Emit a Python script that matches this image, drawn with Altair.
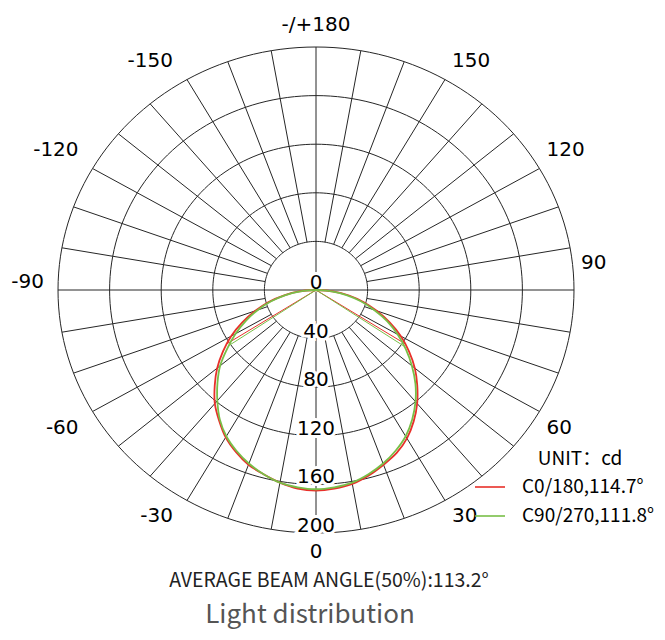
import math
import altair as alt
import pandas as pd

# ---------------- data ----------------
GAMMA = [0, 5, 10, 15, 20, 25, 30, 35, 40, 45, 50, 55, 60, 65, 70, 75, 80, 85, 90]
C0_VALS = [165, 164, 162, 158, 153, 148, 141, 132, 122, 111, 100, 88, 76, 63, 50, 38, 26, 13, 0]
C180_VALS = [165, 164, 161, 157, 153, 147, 140, 131, 122, 111, 100, 88, 76, 63, 50, 38, 25, 13, 0]
C90_VALS = [164, 163, 161, 157, 152, 146, 139, 130, 120, 109, 97, 85, 73, 61, 48, 36, 24, 12, 0]
C270_VALS = [164, 163, 161, 157, 152, 146, 139, 130, 119, 108, 97, 84, 72, 60, 48, 36, 24, 12, 0]

SERIES = ["C0/180,114.7°", "C90/270,111.8°"]
BEAM = [114.7, 111.8]
COLORS = ["#e8302a", "#78bf48"]

RINGS = [40, 80, 120, 160, 200]
RING_LABEL_VALUES = [0, 40, 80, 120, 160, 200]
ANGLE_TICKS = [-150, -120, -90, -60, -30, 0, 30, 60, 90, 120, 150, 180]
ANGLE_TEXT = ["-150", "-120", "-90", "-60", "-30", "0", "30", "60", "90", "120", "150", "-/+180"]

FOOTNOTE = "AVERAGE BEAM ANGLE(50%):113.2°"
TITLE = "Light distribution"
UNIT = "UNIT：cd"

# ---------------- layout ----------------
W, H = 649, 624
CX, CY = 308, 282          # pole position inside plot area (px)
KX, KY = 1.29, 1.215       # px per cd horizontally / vertically
XS = alt.Scale(domain=[-CX / KX, (W - CX) / KX], nice=False, zero=False)
YS = alt.Scale(domain=[-(H - CY) / KY, CY / KY], nice=False, zero=False)
GRID = "#262626"
FONT_NUM = "DejaVu Sans"
FONT_TXT = "Noto Sans CJK SC"

XPOL = "datum.r * sin(datum.a * PI / 180)"
YPOL = "-datum.r * cos(datum.a * PI / 180)"


def X(f="x"):
    return alt.X(f + ":Q", scale=XS, axis=None)


def Y(f="y"):
    return alt.Y(f + ":Q", scale=YS, axis=None)


# curves
curve_rows = []
halves = [(C180_VALS, C0_VALS), (C270_VALS, C90_VALS)]
for name, (left, right) in zip(SERIES, halves):
    for g, v in reversed(list(zip(GAMMA, left))):
        curve_rows.append({"series": name, "a": -g, "r": v})
    for g, v in list(zip(GAMMA, right))[1:]:
        curve_rows.append({"series": name, "a": g, "r": v})
curve_df = pd.DataFrame(curve_rows)

# half-intensity chords (beam angle)
chord_rows = []
for name, beam, vals in zip(SERIES, BEAM, [C0_VALS, C90_VALS]):
    half = max(vals) / 2
    for side in (-1, 1):
        seg = f"{name}{side}"
        chord_rows.append({"series": name, "seg": seg, "k": 0, "a": 0, "r": 0})
        chord_rows.append({"series": name, "seg": seg, "k": 1, "a": side * beam / 2, "r": half})
chord_df = pd.DataFrame(chord_rows)

# grid rings
ring_df = pd.DataFrame([{"ring": r, "a": a, "r": r} for r in RINGS for a in range(0, 361, 2)])

# spokes every 10 degrees
spoke_df = pd.DataFrame(
    [{"a": a, "r0": 0 if a % 90 == 0 else RINGS[0], "r1": RINGS[-1]} for a in range(-170, 181, 10)]
)

# ring labels along the downward axis
ring_lab_df = pd.DataFrame({"a": [0] * len(RING_LABEL_VALUES), "r": RING_LABEL_VALUES,
                            "t": [str(v) for v in RING_LABEL_VALUES]})

# angle labels: anchored just outside the outer ring
RXP, RYP = RINGS[-1] * KX, RINGS[-1] * KY
lab_rows = []
for a, t in zip(ANGLE_TICKS, ANGLE_TEXT):
    s, c = math.sin(math.radians(a)), math.cos(math.radians(a))
    xpx, ydown = RXP * s, RYP * c
    if abs(s) < 1e-6:
        align = "center"
        ydown += 19 if c > 0 else -22
    elif s > 0:
        align = "left"
        xpx += 7
        ydown += 16 if c > 0.01 else (-19 if c < -0.01 else -27)
    else:
        align = "right"
        xpx -= 14
        ydown += 16 if c > 0.01 else (-19 if c < -0.01 else -8)
    lab_rows.append({"t": t, "align": align, "x": xpx / KX, "y": -ydown / KY})
ang_df = pd.DataFrame(lab_rows)

base_calc = dict(x=XPOL, y=YPOL)

rings = alt.Chart(ring_df).transform_calculate(**base_calc).mark_line(
    color=GRID, strokeWidth=1).encode(x=X(), y=Y(), detail="ring:N", order="a:Q")

spokes = alt.Chart(spoke_df).transform_calculate(
    x0="datum.r0 * sin(datum.a * PI / 180)", y0="-datum.r0 * cos(datum.a * PI / 180)",
    x1="datum.r1 * sin(datum.a * PI / 180)", y1="-datum.r1 * cos(datum.a * PI / 180)",
).mark_rule(color=GRID, strokeWidth=1).encode(x=X("x0"), y=Y("y0"), x2="x1:Q", y2="y1:Q")

ring_halo = alt.Chart(ring_lab_df).transform_calculate(**base_calc).mark_text(
    font=FONT_NUM, fontSize=20, baseline="alphabetic", align="center", dy=-1,
    stroke="white", strokeWidth=6, color="white").encode(x=X(), y=Y(), text="t:N")
ring_text = alt.Chart(ring_lab_df).transform_calculate(**base_calc).mark_text(
    font=FONT_NUM, fontSize=20, baseline="alphabetic", align="center", dy=-1,
    color="black").encode(x=X(), y=Y(), text="t:N")


def ang_layer(al):
    return alt.Chart(ang_df).transform_filter(f"datum.align == '{al}'").mark_text(
        font=FONT_NUM, fontSize=20, baseline="middle", align=al, color="black"
    ).encode(x=X(), y=Y(), text="t:N")


color_enc = alt.Color(
    "series:N",
    scale=alt.Scale(domain=SERIES, range=COLORS),
    sort=SERIES,
    legend=alt.Legend(
        title=None, orient="none", legendX=466, legendY=463, padding=0,
        symbolType="stroke", symbolSize=900, symbolStrokeWidth=1.6,
        labelFont=FONT_TXT, labelFontSize=19, labelColor="black", labelOffset=16,
        rowPadding=3, labelLimit=300,
    ),
)

curves = alt.Chart(curve_df).transform_calculate(**base_calc).mark_line(
    strokeWidth=1.8, interpolate="catmull-rom").encode(
    x=X(), y=Y(), color=color_enc, detail="series:N", order="a:Q")

chords = alt.Chart(chord_df).transform_calculate(**base_calc).mark_line(
    strokeWidth=1).encode(x=X(), y=Y(), color=color_enc, detail="seg:N", order="k:Q")

unit_text = alt.Chart(pd.DataFrame({"t": [UNIT]})).mark_text(
    font=FONT_TXT, fontSize=19, align="center", baseline="middle", color="black").encode(
    x=alt.value(572), y=alt.value(451), text="t:N")

foot_text = alt.Chart(pd.DataFrame({"t": [FOOTNOTE]})).mark_text(
    font=FONT_TXT, fontSize=19.5, align="center", baseline="middle", color="#222222").encode(
    x=alt.value(321), y=alt.value(573), text="t:N")

title_text = alt.Chart(pd.DataFrame({"t": [TITLE]})).mark_text(
    font=FONT_TXT, fontSize=26, align="center", baseline="alphabetic", color="#555555").encode(
    x=alt.value(302), y=alt.value(615), text="t:N")

chart = alt.layer(
    rings, spokes, ring_halo, ring_text,
    ang_layer("left"), ang_layer("right"), ang_layer("center"),
    chords, curves, unit_text, foot_text, title_text,
).properties(
    width=W, height=H, padding=0,
    autosize=alt.AutoSizeParams(type="none"),
    background="white",
).configure_view(stroke=None)

chart.save("out.html", embed_options={"renderer": "svg", "actions": False})
